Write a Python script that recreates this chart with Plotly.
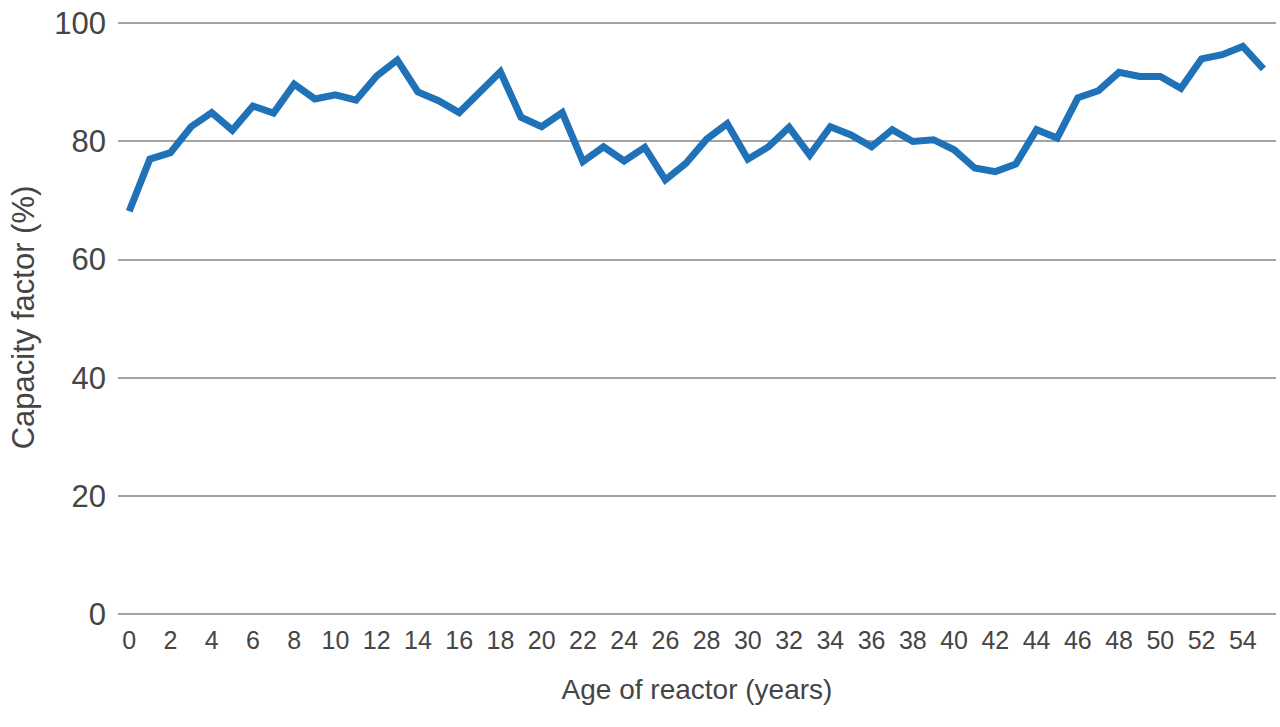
import plotly.graph_objects as go

age = list(range(0, 56))
capacity_factor = [
    68.2, 77.0, 78.1, 82.5, 84.9, 81.9, 86.0, 84.8, 89.7, 87.2,
    87.9, 87.0, 91.1, 93.8, 88.4, 86.9, 84.9, 88.4, 91.8, 84.1,
    82.5, 84.9, 76.6, 79.1, 76.7, 79.0, 73.5, 76.3, 80.4, 83.0,
    77.0, 79.1, 82.4, 77.7, 82.5, 81.1, 79.1, 82.0, 80.0, 80.3,
    78.6, 75.5, 74.9, 76.2, 82.0, 80.6, 87.4, 88.6, 91.7, 91.0,
    91.0, 89.0, 94.0, 94.7, 96.1, 92.3,
]
x_ticks = list(range(0, 55, 2))
y_ticks = [0, 20, 40, 60, 80, 100]

FONT = "Liberation Sans, Helvetica, Arial, sans-serif"
TXT = "#454545"
GRID = "#a3a3a3"

fig = go.Figure(
    go.Scatter(
        x=age,
        y=capacity_factor,
        mode="lines",
        line=dict(color="#1f72b8", width=7),
        hoverinfo="x+y",
    )
)

fig.update_layout(
    width=1280,
    height=727,
    margin=dict(l=118, r=4, t=21, b=113),
    plot_bgcolor="white",
    paper_bgcolor="white",
    showlegend=False,
    font=dict(family=FONT, color=TXT),
    xaxis=dict(
        automargin=False,
        range=[-0.543, 55.61],
        tickvals=x_ticks,
        ticktext=[str(v) for v in x_ticks],
        tickfont=dict(size=25, color=TXT),
        showgrid=False,
        zeroline=False,
        showline=False,
        ticks="",
        ticklabelstandoff=9,
        title=dict(text="Age of reactor (years)", font=dict(size=28, color=TXT), standoff=26),
    ),
    yaxis=dict(
        automargin=False,
        range=[0, 100.4],
        tickvals=y_ticks,
        tickfont=dict(size=31, color=TXT),
        ticklabeloverflow="allow",
        showgrid=True,
        gridcolor=GRID,
        gridwidth=1.6,
        zeroline=True,
        zerolinecolor=GRID,
        zerolinewidth=1.6,
        showline=False,
        ticks="",
        ticklabelstandoff=11,
        title=dict(text="Capacity factor (%)", font=dict(size=31, color=TXT), standoff=10),
    ),
)

fig.write_html(
    "out.html",
    config={"displayModeBar": False},
    post_script="document.body.style.margin='0px';",
)
